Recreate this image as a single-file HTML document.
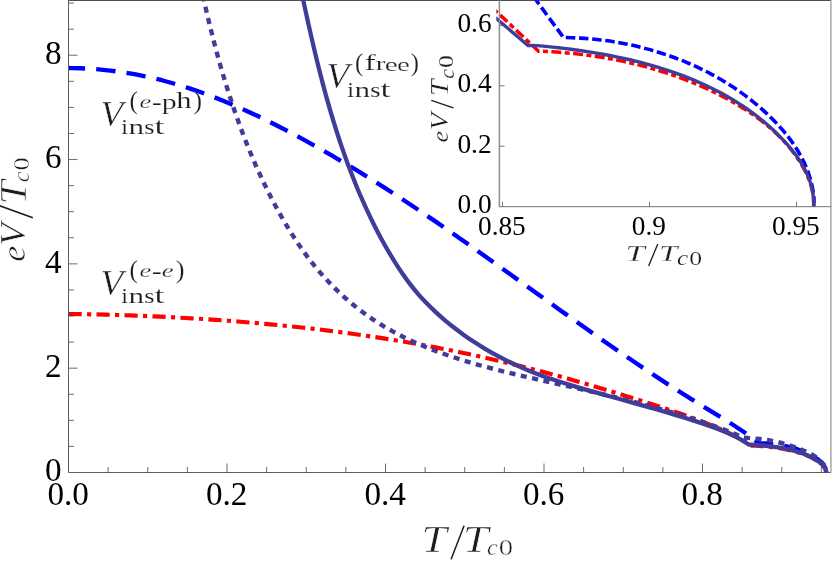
<!DOCTYPE html>
<html><head><meta charset="utf-8"><title>chart</title>
<style>html,body{margin:0;padding:0;background:#fff;}body{width:832px;height:561px;overflow:hidden;font-family:"Liberation Serif",serif;}svg{display:block;will-change:transform;}</style>
</head><body>
<svg width="832" height="561" viewBox="0 0 832 561">
<rect x="0" y="0" width="832" height="561" fill="#fff"/>
<defs><clipPath id="cm"><rect x="68.5" y="0.5" width="762.5" height="472.6"/></clipPath><clipPath id="ci"><rect x="496.3" y="0.5" width="334.7" height="207.4"/></clipPath></defs>
<g clip-path="url(#cm)" fill="none" stroke-linejoin="miter">
<path d="M68.50 314.00 C72.62 314.03 76.74 314.03 80.85 314.09 C84.95 314.15 89.04 314.26 93.13 314.36 C97.22 314.45 101.32 314.56 105.42 314.67 C109.51 314.78 113.61 314.90 117.70 315.03 C121.80 315.15 125.89 315.29 129.99 315.44 C134.09 315.58 138.18 315.74 142.28 315.90 C146.38 316.06 150.47 316.24 154.57 316.42 C158.67 316.60 162.76 316.79 166.86 316.99 C170.95 317.20 175.05 317.41 179.15 317.63 C183.24 317.85 187.34 318.08 191.43 318.32 C195.53 318.56 199.62 318.81 203.71 319.07 C207.81 319.34 211.90 319.61 215.99 319.89 C220.09 320.18 224.18 320.47 228.27 320.77 C232.36 321.08 236.45 321.40 240.54 321.72 C244.63 322.05 248.72 322.39 252.81 322.74 C256.89 323.09 260.98 323.46 265.06 323.83 C269.15 324.21 273.23 324.59 277.32 324.99 C281.40 325.39 285.48 325.80 289.56 326.23 C293.64 326.65 297.72 327.09 301.80 327.53 C305.88 327.98 309.95 328.45 314.03 328.92 C318.10 329.40 322.18 329.88 326.25 330.39 C330.32 330.89 334.39 331.40 338.46 331.93 C342.53 332.46 346.59 333.00 350.66 333.56 C354.72 334.12 358.78 334.69 362.84 335.27 C366.91 335.86 370.96 336.46 375.02 337.07 C379.08 337.69 383.13 338.32 387.18 338.96 C391.23 339.60 395.28 340.26 399.33 340.93 C403.38 341.61 407.42 342.30 411.47 343.00 C415.51 343.70 419.55 344.42 423.59 345.16 C427.62 345.90 431.66 346.65 435.69 347.41 C439.72 348.18 443.75 348.96 447.78 349.76 C451.81 350.56 455.83 351.38 459.85 352.21 C463.87 353.04 467.89 353.89 471.91 354.76 C475.92 355.62 479.93 356.51 483.94 357.41 C487.95 358.31 491.96 359.22 495.96 360.15 C499.96 361.09 503.96 362.03 507.95 363.00 C511.95 363.96 515.94 364.94 519.93 365.94 C523.91 366.93 527.90 367.94 531.88 368.97 C535.86 369.99 539.83 371.03 543.80 372.08 C547.77 373.14 551.74 374.21 555.70 375.29 C559.66 376.37 563.62 377.47 567.57 378.58 C571.52 379.69 575.47 380.81 579.41 381.95 C583.35 383.08 587.29 384.23 591.22 385.39 C595.15 386.55 599.08 387.73 603.00 388.91 C606.92 390.09 610.84 391.29 614.75 392.49 C618.66 393.69 622.56 394.90 626.46 396.12 C630.36 397.34 634.25 398.57 638.14 399.80 C642.02 401.03 645.90 402.27 649.77 403.51 C653.64 404.75 657.51 405.99 661.37 407.25 C665.23 408.50 669.09 409.76 672.93 411.05 C676.78 412.34 680.62 413.64 684.45 414.98 C688.28 416.33 692.11 417.70 695.92 419.13 C699.74 420.56 703.56 422.02 707.35 423.55 C711.16 425.09 714.96 426.67 718.74 428.33 C722.53 430.00 726.32 431.73 730.08 433.54 C733.86 435.36 737.71 437.21 741.37 439.25 C744.96 441.26 748.34 443.53 751.83 445.67 C752.61 445.68 753.38 445.67 754.17 445.69 C754.96 445.71 755.77 445.76 756.57 445.80 C757.37 445.84 758.17 445.88 758.96 445.93 C759.75 445.97 760.54 446.02 761.33 446.08 C762.12 446.13 762.90 446.19 763.69 446.25 C764.47 446.31 765.25 446.38 766.02 446.45 C766.80 446.52 767.57 446.59 768.34 446.67 C769.11 446.75 769.88 446.83 770.65 446.92 C771.41 447.00 772.18 447.10 772.94 447.19 C773.70 447.29 774.46 447.39 775.22 447.49 C775.97 447.60 776.73 447.71 777.48 447.82 C778.23 447.94 778.98 448.06 779.73 448.18 C780.48 448.30 781.23 448.43 781.97 448.57 C782.72 448.70 783.46 448.84 784.20 448.99 C784.94 449.13 785.68 449.28 786.42 449.44 C787.15 449.59 787.89 449.75 788.63 449.92 C789.36 450.09 790.09 450.26 790.82 450.44 C791.56 450.62 792.29 450.80 793.02 450.99 C793.74 451.18 794.47 451.37 795.20 451.57 C795.92 451.77 796.65 451.98 797.37 452.19 C798.10 452.41 798.82 452.63 799.54 452.85 C800.26 453.08 800.98 453.31 801.69 453.55 C802.40 453.79 803.11 454.03 803.81 454.28 C804.51 454.54 805.20 454.79 805.89 455.06 C806.58 455.33 807.26 455.60 807.93 455.88 C808.60 456.16 809.27 456.44 809.92 456.74 C810.57 457.03 811.21 457.34 811.85 457.65 C812.47 457.96 813.09 458.27 813.70 458.60 C814.30 458.92 814.90 459.26 815.48 459.60 C816.05 459.94 816.61 460.29 817.16 460.65 C817.71 461.00 818.24 461.37 818.75 461.75 C819.26 462.12 819.76 462.50 820.24 462.90 C820.71 463.29 821.17 463.69 821.61 464.10 C822.04 464.51 822.46 464.92 822.85 465.36 C823.24 465.78 823.61 466.22 823.94 466.67 C824.27 467.11 824.58 467.57 824.84 468.04 C825.10 468.50 825.34 468.97 825.52 469.46 C825.71 469.95 825.87 470.44 825.95 470.95 C826.03 471.46 825.99 471.98 826.01 472.50" stroke="#ff0000" stroke-width="4.15" stroke-dasharray="13.2 5.3 4.2 5.3"/>
<path d="M68.50 68.00 C72.57 68.09 76.64 68.12 80.72 68.28 C84.84 68.44 89.00 68.66 93.12 68.96 C97.23 69.25 101.33 69.62 105.41 70.05 C109.49 70.48 113.55 70.98 117.60 71.54 C121.65 72.10 125.68 72.73 129.70 73.42 C133.71 74.11 137.71 74.86 141.69 75.68 C145.67 76.49 149.64 77.36 153.59 78.29 C157.54 79.22 161.48 80.21 165.40 81.25 C169.32 82.29 173.22 83.39 177.11 84.54 C181.00 85.69 184.88 86.90 188.74 88.15 C192.60 89.41 196.45 90.71 200.28 92.06 C204.11 93.42 207.93 94.82 211.73 96.26 C215.53 97.71 219.32 99.20 223.10 100.73 C226.88 102.27 230.64 103.84 234.38 105.45 C238.13 107.07 241.87 108.72 245.59 110.41 C249.31 112.09 253.02 113.82 256.72 115.57 C260.42 117.32 264.10 119.11 267.77 120.92 C271.44 122.74 275.10 124.58 278.75 126.45 C282.39 128.32 286.03 130.21 289.65 132.12 C293.27 134.04 296.88 135.97 300.48 137.93 C304.08 139.88 307.67 141.85 311.25 143.84 C314.83 145.83 318.39 147.84 321.95 149.86 C325.50 151.88 329.05 153.92 332.58 155.97 C336.11 158.03 339.64 160.10 343.15 162.18 C346.66 164.27 350.16 166.37 353.66 168.48 C357.15 170.60 360.63 172.72 364.11 174.87 C367.58 177.01 371.04 179.17 374.50 181.33 C377.95 183.50 381.40 185.69 384.83 187.88 C388.27 190.08 391.70 192.28 395.12 194.50 C398.53 196.72 401.94 198.95 405.35 201.20 C408.75 203.44 412.14 205.69 415.53 207.95 C418.91 210.22 422.29 212.49 425.66 214.78 C429.03 217.06 432.39 219.35 435.75 221.66 C439.11 223.96 442.46 226.27 445.80 228.59 C449.15 230.91 452.49 233.23 455.82 235.57 C459.16 237.90 462.49 240.24 465.82 242.59 C469.15 244.93 472.47 247.28 475.79 249.64 C479.11 252.00 482.43 254.36 485.75 256.73 C489.07 259.09 492.38 261.47 495.70 263.84 C499.01 266.21 502.32 268.59 505.64 270.97 C508.95 273.35 512.27 275.73 515.58 278.12 C518.90 280.50 522.21 282.89 525.53 285.27 C528.84 287.66 532.16 290.04 535.48 292.43 C538.80 294.82 542.12 297.20 545.44 299.59 C548.76 301.97 552.08 304.36 555.41 306.74 C558.73 309.12 562.06 311.50 565.39 313.87 C568.73 316.25 572.06 318.62 575.40 320.99 C578.73 323.36 582.07 325.73 585.42 328.09 C588.76 330.45 592.11 332.81 595.46 335.16 C598.81 337.51 602.17 339.85 605.53 342.19 C608.89 344.53 612.25 346.86 615.62 349.18 C618.99 351.51 622.37 353.83 625.75 356.13 C629.13 358.44 632.52 360.74 635.91 363.03 C639.29 365.32 642.69 367.60 646.09 369.87 C649.48 372.13 652.89 374.39 656.29 376.63 C659.70 378.87 663.11 381.10 666.52 383.31 C669.93 385.52 673.35 387.72 676.77 389.91 C680.18 392.09 683.60 394.26 687.03 396.41 C690.45 398.55 693.88 400.68 697.31 402.80 C700.73 404.91 704.17 406.99 707.60 409.08 C711.03 411.18 714.46 413.25 717.89 415.36 C721.33 417.47 724.77 419.59 728.20 421.76 C731.64 423.95 735.08 426.16 738.50 428.44 C741.95 430.75 745.46 433.06 748.81 435.54 C752.15 438.01 755.32 440.71 758.57 443.29 C759.33 443.31 760.11 443.31 760.87 443.33 C761.62 443.35 762.37 443.37 763.12 443.40 C763.87 443.43 764.63 443.47 765.38 443.51 C766.13 443.55 766.88 443.59 767.63 443.65 C768.38 443.70 769.14 443.76 769.89 443.83 C770.64 443.89 771.39 443.96 772.14 444.04 C772.89 444.12 773.63 444.20 774.38 444.29 C775.13 444.38 775.87 444.47 776.62 444.58 C777.36 444.68 778.10 444.79 778.84 444.90 C779.58 445.01 780.32 445.13 781.05 445.26 C781.79 445.39 782.52 445.52 783.25 445.66 C783.98 445.80 784.71 445.94 785.43 446.09 C786.15 446.24 786.87 446.40 787.59 446.56 C788.31 446.73 789.02 446.90 789.73 447.07 C790.44 447.25 791.15 447.43 791.85 447.62 C792.55 447.81 793.24 448.00 793.94 448.21 C794.63 448.41 795.32 448.61 796.00 448.83 C796.68 449.04 797.36 449.26 798.03 449.49 C798.70 449.72 799.37 449.95 800.03 450.19 C800.69 450.43 801.34 450.68 802.00 450.93 C802.64 451.18 803.29 451.44 803.92 451.71 C804.56 451.97 805.19 452.24 805.81 452.52 C806.43 452.80 807.05 453.08 807.66 453.38 C808.27 453.67 808.87 453.97 809.46 454.27 C810.06 454.58 810.64 454.89 811.22 455.21 C811.80 455.52 812.37 455.85 812.93 456.18 C813.49 456.51 814.05 456.85 814.59 457.19 C815.13 457.54 815.67 457.89 816.19 458.25 C816.71 458.60 817.22 458.97 817.71 459.34 C818.21 459.71 818.69 460.08 819.15 460.47 C819.61 460.85 820.06 461.24 820.49 461.65 C820.92 462.04 821.33 462.45 821.72 462.86 C822.11 463.27 822.48 463.69 822.83 464.12 C823.17 464.54 823.49 464.97 823.79 465.41 C824.09 465.85 824.37 466.29 824.62 466.75 C824.86 467.20 825.09 467.66 825.28 468.13 C825.47 468.59 825.63 469.07 825.77 469.55 C825.90 470.03 826.03 470.52 826.07 471.01 C826.11 471.50 826.03 472.00 826.01 472.50" stroke="#0000ff" stroke-width="4.35" stroke-dasharray="19.4 11.13" stroke-dashoffset="2.8"/>
<path d="M201.80 -10.00 C202.64 -6.01 203.43 -2.00 204.31 1.97 C205.17 5.91 206.09 9.81 207.01 13.73 C207.94 17.66 208.88 21.58 209.84 25.51 C210.80 29.44 211.78 33.37 212.79 37.30 C213.79 41.23 214.82 45.17 215.87 49.09 C216.92 53.03 217.99 56.96 219.09 60.88 C220.19 64.81 221.31 68.73 222.46 72.65 C223.61 76.57 224.78 80.48 225.99 84.39 C227.19 88.30 228.42 92.20 229.67 96.09 C230.93 99.99 232.22 103.88 233.53 107.75 C234.85 111.63 236.19 115.50 237.57 119.36 C238.95 123.21 240.35 127.06 241.79 130.89 C243.23 134.72 244.70 138.55 246.21 142.35 C247.72 146.16 249.25 149.95 250.83 153.73 C252.40 157.50 254.01 161.27 255.65 165.01 C257.30 168.75 258.98 172.48 260.69 176.19 C262.41 179.89 264.17 183.58 265.96 187.25 C267.75 190.91 269.58 194.56 271.46 198.18 C273.33 201.81 275.24 205.41 277.19 208.99 C279.15 212.56 281.14 216.12 283.17 219.65 C285.21 223.17 287.29 226.68 289.42 230.14 C291.56 233.61 293.74 237.05 295.98 240.44 C298.22 243.84 300.51 247.20 302.87 250.51 C305.23 253.83 307.65 257.10 310.15 260.32 C312.64 263.54 315.20 266.72 317.84 269.83 C320.47 272.95 323.18 276.02 325.94 279.02 C328.72 282.02 331.55 284.96 334.45 287.84 C337.35 290.71 340.32 293.52 343.34 296.26 C346.37 299.00 349.45 301.67 352.59 304.26 C355.73 306.84 358.93 309.36 362.18 311.79 C365.42 314.22 368.72 316.57 372.08 318.83 C375.42 321.09 378.83 323.26 382.27 325.36 C385.71 327.45 389.21 329.46 392.74 331.40 C396.27 333.34 399.85 335.20 403.46 337.00 C407.07 338.79 410.73 340.51 414.41 342.18 C418.09 343.84 421.82 345.43 425.56 346.97 C429.31 348.51 433.10 349.98 436.90 351.41 C440.71 352.84 444.55 354.20 448.41 355.53 C452.27 356.85 456.16 358.13 460.05 359.36 C463.96 360.60 467.88 361.78 471.82 362.94 C475.76 364.09 479.72 365.20 483.68 366.29 C487.65 367.37 491.64 368.42 495.62 369.45 C499.61 370.47 503.61 371.47 507.62 372.45 C511.62 373.43 515.63 374.38 519.64 375.32 C523.65 376.26 527.67 377.18 531.68 378.10 C535.69 379.02 539.70 379.92 543.71 380.82 C547.71 381.72 551.70 382.61 555.70 383.50 C559.69 384.40 563.67 385.29 567.65 386.19 C571.62 387.08 575.59 387.98 579.56 388.88 C583.52 389.78 587.47 390.68 591.43 391.60 C595.38 392.51 599.32 393.43 603.26 394.37 C607.20 395.30 611.13 396.24 615.06 397.20 C618.99 398.15 622.91 399.12 626.83 400.10 C630.75 401.09 634.66 402.09 638.57 403.11 C642.48 404.13 646.39 405.16 650.29 406.22 C654.19 407.28 658.09 408.36 661.98 409.47 C665.88 410.57 669.77 411.70 673.65 412.86 C677.54 414.02 681.43 415.20 685.31 416.41 C689.19 417.63 693.07 418.87 696.95 420.14 C700.83 421.42 704.70 422.73 708.57 424.07 C712.45 425.42 716.32 426.80 720.19 428.22 C724.06 429.64 727.99 431.02 731.79 432.59 C735.56 434.15 739.20 435.93 742.90 437.60 C747.13 437.93 751.51 438.20 755.60 438.60 C759.43 438.97 763.01 439.32 766.70 439.90 C770.41 440.48 774.12 441.22 777.80 442.10 C781.52 442.99 785.22 444.03 788.90 445.20 C792.62 446.39 796.32 447.74 800.00 449.20 C803.72 450.67 807.65 452.02 811.10 454.00 C814.51 455.96 818.15 458.64 820.60 461.00 C822.49 462.82 824.05 464.51 825.00 466.50 C825.89 468.36 825.87 470.50 826.30 472.50" stroke="#3f3d99" stroke-width="4.4" stroke-dasharray="6.1 5.5" stroke-dashoffset="6.1"/>
<path d="M300.50 -12.00 C301.39 -8.02 302.30 -4.04 303.18 -0.05 C304.06 3.94 304.90 7.93 305.77 11.91 C306.64 15.91 307.52 19.90 308.41 23.89 C309.30 27.88 310.20 31.87 311.11 35.86 C312.03 39.85 312.95 43.84 313.89 47.82 C314.83 51.81 315.79 55.79 316.76 59.77 C317.73 63.76 318.72 67.73 319.73 71.71 C320.73 75.68 321.76 79.65 322.80 83.61 C323.85 87.57 324.91 91.53 326.00 95.48 C327.09 99.43 328.20 103.38 329.34 107.31 C330.47 111.25 331.63 115.18 332.82 119.10 C334.00 123.02 335.21 126.93 336.45 130.83 C337.69 134.73 338.96 138.62 340.26 142.50 C341.56 146.38 342.89 150.25 344.25 154.10 C345.61 157.96 347.00 161.80 348.43 165.63 C349.86 169.46 351.32 173.28 352.81 177.08 C354.31 180.88 355.84 184.67 357.41 188.45 C358.99 192.22 360.59 195.98 362.24 199.72 C363.89 203.46 365.58 207.18 367.31 210.88 C369.04 214.59 370.81 218.28 372.63 221.95 C374.44 225.62 376.30 229.27 378.21 232.89 C380.11 236.52 382.06 240.13 384.06 243.71 C386.06 247.28 388.11 250.83 390.21 254.35 C392.31 257.86 394.45 261.35 396.65 264.80 C398.86 268.23 401.10 271.65 403.44 274.99 C405.77 278.34 408.16 281.64 410.65 284.87 C413.15 288.09 415.73 291.25 418.40 294.33 C421.07 297.41 423.85 300.42 426.69 303.35 C429.54 306.28 432.48 309.14 435.47 311.93 C438.47 314.72 441.55 317.43 444.68 320.08 C447.81 322.73 451.01 325.31 454.25 327.82 C457.49 330.33 460.79 332.77 464.13 335.15 C467.46 337.52 470.85 339.83 474.28 342.07 C477.70 344.31 481.18 346.48 484.69 348.58 C488.19 350.69 491.75 352.72 495.33 354.68 C498.91 356.65 502.54 358.54 506.19 360.37 C509.84 362.19 513.53 363.95 517.25 365.63 C520.96 367.32 524.71 368.93 528.48 370.48 C532.25 372.03 536.05 373.50 539.87 374.92 C543.69 376.34 547.53 377.70 551.39 379.01 C555.25 380.33 559.14 381.59 563.03 382.82 C566.92 384.06 570.84 385.24 574.76 386.41 C578.68 387.58 582.62 388.71 586.56 389.84 C590.50 390.97 594.46 392.07 598.41 393.18 C602.37 394.28 606.34 395.38 610.30 396.47 C614.26 397.57 618.23 398.66 622.20 399.76 C626.17 400.86 630.13 401.96 634.10 403.06 C638.06 404.17 642.02 405.28 645.98 406.40 C649.93 407.52 653.88 408.64 657.82 409.78 C661.76 410.92 665.69 412.06 669.61 413.23 C673.52 414.39 677.43 415.57 681.33 416.77 C685.22 417.96 689.10 419.18 692.96 420.41 C696.82 421.65 700.66 422.89 704.49 424.19 C708.31 425.49 712.12 426.79 715.90 428.22 C719.68 429.66 723.45 431.14 727.17 432.80 C730.91 434.47 734.66 436.23 738.28 438.20 C741.93 440.18 745.43 442.52 749.00 444.68 C749.84 444.68 750.69 444.67 751.51 444.69 C752.31 444.72 753.08 444.79 753.87 444.84 C754.66 444.89 755.45 444.94 756.24 444.99 C757.04 445.05 757.84 445.11 758.64 445.17 C759.44 445.23 760.24 445.30 761.04 445.37 C761.84 445.43 762.65 445.51 763.45 445.58 C764.26 445.66 765.07 445.74 765.87 445.82 C766.68 445.90 767.49 445.99 768.30 446.08 C769.11 446.17 769.91 446.26 770.72 446.36 C771.53 446.46 772.34 446.57 773.14 446.67 C773.95 446.78 774.75 446.89 775.56 447.01 C776.36 447.13 777.17 447.25 777.97 447.37 C778.77 447.50 779.57 447.63 780.36 447.77 C781.16 447.90 781.95 448.05 782.75 448.19 C783.54 448.34 784.33 448.49 785.11 448.65 C785.90 448.81 786.68 448.97 787.46 449.14 C788.24 449.31 789.01 449.48 789.78 449.66 C790.55 449.84 791.32 450.03 792.08 450.22 C792.84 450.42 793.60 450.62 794.35 450.82 C795.10 451.03 795.84 451.24 796.58 451.46 C797.32 451.67 798.06 451.90 798.79 452.13 C799.51 452.36 800.24 452.60 800.95 452.85 C801.67 453.09 802.37 453.34 803.08 453.60 C803.78 453.86 804.47 454.13 805.16 454.40 C805.84 454.68 806.52 454.96 807.19 455.25 C807.86 455.54 808.52 455.83 809.18 456.14 C809.83 456.44 810.48 456.76 811.11 457.08 C811.75 457.40 812.37 457.73 812.99 458.07 C813.61 458.40 814.21 458.75 814.81 459.10 C815.41 459.46 815.99 459.82 816.57 460.19 C817.15 460.56 817.71 460.94 818.27 461.33 C818.82 461.72 819.36 462.11 819.88 462.52 C820.40 462.93 820.91 463.34 821.39 463.77 C821.86 464.19 822.31 464.63 822.74 465.08 C823.15 465.52 823.55 465.97 823.90 466.44 C824.25 466.90 824.57 467.37 824.85 467.87 C825.11 468.35 825.35 468.84 825.53 469.35 C825.71 469.85 825.84 470.38 825.92 470.90 C826.00 471.43 825.98 471.97 826.01 472.50" stroke="#3f3d99" stroke-width="4.3"/>
</g>
<g stroke="#4d4d4d" stroke-width="0.9" fill="none">
<path d="M68.5 0V472.5H831"/>
</g>
<path d="M68.5 0.4H831" stroke="#3a3a3a" stroke-width="1" fill="none"/>
<path d="M830.9 0V472.5" stroke="#999" stroke-width="1.3" fill="none"/>
<path d="M68.5 446.42h5.5 M68.5 420.34h5.5 M68.5 394.26h5.5 M68.5 368.18h9.0 M68.5 342.10h5.5 M68.5 316.02h5.5 M68.5 289.94h5.5 M68.5 263.86h9.0 M68.5 237.78h5.5 M68.5 211.70h5.5 M68.5 185.62h5.5 M68.5 159.54h9.0 M68.5 133.46h5.5 M68.5 107.38h5.5 M68.5 81.30h5.5 M68.5 55.22h9.0 M68.5 29.14h5.5 M68.5 3.06h5.5 M108.12 472.5v-5.5 M147.75 472.5v-5.5 M187.38 472.5v-5.5 M227.00 472.5v-9.0 M266.62 472.5v-5.5 M306.25 472.5v-5.5 M345.88 472.5v-5.5 M385.50 472.5v-9.0 M425.12 472.5v-5.5 M464.75 472.5v-5.5 M504.38 472.5v-5.5 M544.00 472.5v-9.0 M583.62 472.5v-5.5 M623.25 472.5v-5.5 M662.88 472.5v-5.5 M702.50 472.5v-9.0 M742.13 472.5v-5.5 M781.75 472.5v-5.5 M821.38 472.5v-5.5" stroke="#3c3c3c" stroke-width="0.75" fill="none"/>
<g clip-path="url(#ci)" fill="none" stroke-linejoin="miter">
<path d="M490.00 6.00 C492.00 7.75 493.13 8.64 496.00 11.25 C503.77 18.31 524.33 37.92 538.50 51.25 C541.39 51.29 544.26 51.26 547.17 51.38 C550.13 51.50 553.13 51.77 556.10 52.00 C559.06 52.22 562.02 52.47 564.96 52.74 C567.90 53.01 570.83 53.30 573.76 53.61 C576.67 53.92 579.58 54.26 582.49 54.62 C585.38 54.97 588.27 55.35 591.15 55.76 C594.03 56.16 596.90 56.59 599.76 57.04 C602.62 57.50 605.47 57.97 608.32 58.48 C611.16 58.98 613.99 59.51 616.82 60.07 C619.64 60.62 622.45 61.20 625.26 61.81 C628.07 62.42 630.87 63.05 633.66 63.72 C636.45 64.38 639.24 65.07 642.01 65.79 C644.79 66.51 647.56 67.26 650.32 68.04 C653.08 68.82 655.84 69.63 658.59 70.47 C661.34 71.31 664.08 72.18 666.82 73.08 C669.55 73.98 672.28 74.91 675.01 75.87 C677.73 76.84 680.45 77.83 683.16 78.86 C685.88 79.89 688.59 80.95 691.29 82.05 C694.00 83.15 696.70 84.28 699.39 85.44 C702.09 86.60 704.78 87.80 707.46 89.03 C710.15 90.27 712.83 91.54 715.50 92.84 C718.17 94.15 720.83 95.49 723.46 96.87 C726.10 98.26 728.73 99.67 731.33 101.13 C733.93 102.59 736.51 104.09 739.07 105.63 C741.62 107.17 744.14 108.74 746.64 110.37 C749.12 111.99 751.59 113.65 754.01 115.36 C756.42 117.06 758.81 118.81 761.15 120.60 C763.48 122.40 765.78 124.23 768.03 126.12 C770.27 128.00 772.47 129.93 774.62 131.91 C776.75 133.88 778.85 135.91 780.88 137.98 C782.90 140.05 784.87 142.17 786.77 144.34 C788.67 146.51 790.52 148.73 792.28 151.00 C794.05 153.27 795.75 155.59 797.37 157.96 C798.98 160.34 800.54 162.76 801.98 165.24 C803.42 167.72 804.79 170.25 806.02 172.83 C807.26 175.42 808.39 178.06 809.37 180.76 C810.35 183.46 811.21 186.22 811.89 189.02 C812.57 191.84 813.16 194.71 813.46 197.62 C813.77 200.57 813.62 203.61 813.70 206.60" stroke="#ff0000" stroke-width="3.5" stroke-dasharray="10 3.4 5 3.4" stroke-dashoffset="8"/>
<path d="M526.00 -14.00 C529.33 -9.33 531.82 -5.78 536.00 0.00 C542.87 9.50 554.33 25.00 563.50 37.50 C566.34 37.57 569.21 37.61 572.03 37.72 C574.84 37.82 577.61 37.95 580.39 38.12 C583.18 38.29 585.97 38.49 588.76 38.73 C591.55 38.97 594.34 39.24 597.13 39.55 C599.92 39.86 602.71 40.20 605.49 40.58 C608.27 40.96 611.06 41.37 613.84 41.82 C616.62 42.26 619.39 42.75 622.16 43.26 C624.93 43.78 627.70 44.33 630.45 44.92 C633.21 45.51 635.97 46.14 638.71 46.80 C641.45 47.46 644.19 48.15 646.92 48.88 C649.64 49.61 652.36 50.38 655.07 51.18 C657.77 51.98 660.47 52.82 663.16 53.70 C665.84 54.57 668.51 55.48 671.17 56.43 C673.83 57.38 676.48 58.36 679.11 59.38 C681.74 60.40 684.36 61.46 686.96 62.55 C689.56 63.64 692.15 64.77 694.71 65.94 C697.28 67.10 699.83 68.31 702.36 69.55 C704.89 70.79 707.41 72.06 709.90 73.38 C712.39 74.69 714.87 76.04 717.32 77.43 C719.77 78.82 722.20 80.24 724.61 81.70 C727.01 83.17 729.40 84.67 731.76 86.20 C734.12 87.74 736.45 89.32 738.76 90.93 C741.07 92.54 743.36 94.19 745.62 95.88 C747.88 97.57 750.11 99.30 752.31 101.06 C754.52 102.83 756.69 104.63 758.84 106.47 C760.98 108.31 763.10 110.19 765.18 112.10 C767.27 114.02 769.33 115.98 771.34 117.97 C773.35 119.96 775.34 122.00 777.27 124.07 C779.20 126.14 781.09 128.25 782.92 130.40 C784.75 132.54 786.54 134.73 788.26 136.96 C789.97 139.18 791.63 141.45 793.22 143.76 C794.81 146.06 796.34 148.40 797.78 150.79 C799.22 153.17 800.60 155.59 801.88 158.06 C803.16 160.52 804.37 163.02 805.48 165.56 C806.58 168.10 807.61 170.69 808.52 173.30 C809.44 175.93 810.27 178.59 810.98 181.29 C811.69 183.99 812.30 186.74 812.79 189.51 C813.28 192.30 813.77 195.13 813.92 197.97 C814.07 200.83 813.77 203.72 813.70 206.60" stroke="#0000ff" stroke-width="3.6" stroke-dasharray="9.5 3.7"/>
<path d="M493.00 15.50 C494.33 16.67 495.03 17.30 497.00 19.00 C502.45 23.72 517.67 36.67 528.00 45.50 C531.11 45.54 534.26 45.45 537.32 45.61 C540.28 45.76 543.14 46.14 546.07 46.43 C549.00 46.72 551.94 47.02 554.88 47.34 C557.84 47.67 560.79 48.01 563.75 48.36 C566.72 48.72 569.70 49.10 572.67 49.49 C575.66 49.89 578.64 50.30 581.63 50.74 C584.62 51.18 587.61 51.64 590.60 52.12 C593.60 52.60 596.60 53.10 599.59 53.62 C602.59 54.15 605.59 54.70 608.58 55.27 C611.58 55.84 614.58 56.44 617.57 57.06 C620.56 57.69 623.55 58.34 626.53 59.01 C629.52 59.69 632.49 60.39 635.47 61.13 C638.44 61.86 641.40 62.62 644.36 63.41 C647.31 64.20 650.26 65.02 653.20 65.87 C656.13 66.72 659.06 67.60 661.97 68.51 C664.89 69.42 667.79 70.37 670.68 71.35 C673.56 72.33 676.44 73.34 679.30 74.38 C682.15 75.43 684.99 76.51 687.82 77.62 C690.64 78.74 693.45 79.89 696.23 81.08 C699.02 82.27 701.79 83.49 704.53 84.76 C707.28 86.02 710.00 87.32 712.70 88.66 C715.40 90.00 718.08 91.38 720.74 92.81 C723.39 94.23 726.02 95.69 728.62 97.19 C731.22 98.69 733.79 100.24 736.34 101.83 C738.88 103.42 741.40 105.05 743.89 106.72 C746.37 108.40 748.83 110.12 751.26 111.88 C753.68 113.65 756.07 115.46 758.43 117.32 C760.79 119.17 763.11 121.08 765.40 123.03 C767.69 124.98 769.94 126.98 772.15 129.03 C774.37 131.08 776.55 133.18 778.68 135.33 C780.82 137.48 782.92 139.68 784.97 141.93 C787.02 144.18 789.04 146.48 790.97 148.84 C792.89 151.19 794.77 153.60 796.54 156.07 C798.30 158.53 800.00 161.04 801.55 163.62 C803.11 166.20 804.57 168.83 805.88 171.52 C807.18 174.21 808.37 176.96 809.38 179.77 C810.39 182.57 811.26 185.45 811.92 188.37 C812.59 191.30 813.07 194.31 813.37 197.34 C813.67 200.39 813.59 203.51 813.70 206.60" stroke="#3f3d99" stroke-width="3.4"/>
</g>
<path d="M499.4 0.5V206.7" stroke="#8e8e8e" stroke-width="1.5" fill="none"/>
<path d="M499 206.7H831" stroke="#666" stroke-width="0.9" fill="none"/>
<path d="M499.5 146.20h5 M499.5 85.80h5 M499.5 25.40h5 M502.50 206.7v-5 M649.50 206.7v-5 M796.50 206.7v-5" stroke="#555" stroke-width="0.8" fill="none"/>
<g font-family="'Liberation Serif', serif" fill="#000">
<text x="61.50" y="481.22" font-size="33.20" text-anchor="end">0</text>
<text x="61.50" y="376.90" font-size="33.20" text-anchor="end">2</text>
<text x="61.50" y="272.58" font-size="33.20" text-anchor="end">4</text>
<text x="61.50" y="168.26" font-size="33.20" text-anchor="end">6</text>
<text x="61.50" y="63.94" font-size="33.20" text-anchor="end">8</text>
<text x="68.20" y="504.60" font-size="33.20" text-anchor="middle">0.0</text>
<text x="226.70" y="504.60" font-size="33.20" text-anchor="middle">0.2</text>
<text x="385.20" y="504.60" font-size="33.20" text-anchor="middle">0.4</text>
<text x="543.70" y="504.60" font-size="33.20" text-anchor="middle">0.6</text>
<text x="702.20" y="504.60" font-size="33.20" text-anchor="middle">0.8</text>
<text x="491.60" y="213.23" font-size="27.30" text-anchor="end">0.0</text>
<text x="491.60" y="152.83" font-size="27.30" text-anchor="end">0.2</text>
<text x="491.60" y="92.43" font-size="27.30" text-anchor="end">0.4</text>
<text x="491.60" y="32.03" font-size="27.30" text-anchor="end">0.6</text>
<text x="501.90" y="235.10" font-size="27.30" text-anchor="middle">0.85</text>
<text x="648.90" y="235.10" font-size="27.30" text-anchor="middle">0.9</text>
<text x="795.90" y="235.10" font-size="27.30" text-anchor="middle">0.95</text>
<g fill="#1c1c1c">
<text transform="matrix(0.3756 0 0 0.3567 100.27 125.61)" font-size="100" font-style="italic" stroke="#fff" stroke-width="1.37">V</text><text transform="matrix(0.2510 0 0 0.2544 129.55 108.61)" font-size="100" stroke="#fff" stroke-width="0.59">(</text><text transform="matrix(0.2641 0 0 0.1938 139.56 107.96)" font-size="100" font-style="italic" stroke="#fff" stroke-width="1.33">e</text><text transform="matrix(0.2885 0 0 0.2133 151.99 109.07)" font-size="100">-</text><text transform="matrix(0.2989 0 0 0.1993 161.85 108.57)" font-size="100" stroke="#fff" stroke-width="0.82">p</text><text transform="matrix(0.3063 0 0 0.2223 176.34 107.85)" font-size="100" stroke="#fff" stroke-width="0.77">h</text><text transform="matrix(0.2558 0 0 0.2544 193.41 108.61)" font-size="100" stroke="#fff" stroke-width="0.59">)</text><text transform="matrix(0.2437 0 0 0.2189 121.16 134.10)" font-size="100" stroke="#fff" stroke-width="0.87">i</text><text transform="matrix(0.3129 0 0 0.2032 128.52 134.10)" font-size="100" stroke="#fff" stroke-width="0.79">n</text><text transform="matrix(0.2627 0 0 0.2036 144.36 134.08)" font-size="100" stroke="#fff" stroke-width="0.76">s</text><text transform="matrix(0.3577 0 0 0.2400 154.44 134.06)" font-size="100" stroke="#fff" stroke-width="0.68">t</text>
<text transform="matrix(0.3756 0 0 0.3567 100.27 294.51)" font-size="100" font-style="italic" stroke="#fff" stroke-width="1.37">V</text><text transform="matrix(0.2510 0 0 0.2544 129.55 277.51)" font-size="100" stroke="#fff" stroke-width="0.59">(</text><text transform="matrix(0.2641 0 0 0.1937 139.56 276.86)" font-size="100" font-style="italic" stroke="#fff" stroke-width="1.33">e</text><text transform="matrix(0.2885 0 0 0.2133 151.99 277.97)" font-size="100">-</text><text transform="matrix(0.2667 0 0 0.1937 161.75 276.86)" font-size="100" font-style="italic" stroke="#fff" stroke-width="1.32">e</text><text transform="matrix(0.2635 0 0 0.2544 175.83 277.51)" font-size="100" stroke="#fff" stroke-width="0.58">)</text><text transform="matrix(0.2437 0 0 0.2189 121.16 303.00)" font-size="100" stroke="#fff" stroke-width="0.87">i</text><text transform="matrix(0.3129 0 0 0.2032 128.52 303.00)" font-size="100" stroke="#fff" stroke-width="0.79">n</text><text transform="matrix(0.2627 0 0 0.2036 144.36 302.98)" font-size="100" stroke="#fff" stroke-width="0.76">s</text><text transform="matrix(0.3577 0 0 0.2400 154.44 302.96)" font-size="100" stroke="#fff" stroke-width="0.68">t</text>
<text transform="matrix(0.3756 0 0 0.3567 326.27 88.11)" font-size="100" font-style="italic" stroke="#fff" stroke-width="1.37">V</text><text transform="matrix(0.2490 0 0 0.2544 354.90 71.11)" font-size="100" stroke="#fff" stroke-width="0.60">(</text><text transform="matrix(0.3377 0 0 0.2262 364.39 70.35)" font-size="100" stroke="#fff" stroke-width="0.72">f</text><text transform="matrix(0.2885 0 0 0.1904 375.72 70.35)" font-size="100" stroke="#fff" stroke-width="0.85">r</text><text transform="matrix(0.2946 0 0 0.1979 384.77 70.55)" font-size="100" stroke="#fff" stroke-width="1.24">e</text><text transform="matrix(0.2905 0 0 0.1979 396.99 70.55)" font-size="100" stroke="#fff" stroke-width="1.25">e</text><text transform="matrix(0.2442 0 0 0.2544 410.79 71.11)" font-size="100" stroke="#fff" stroke-width="0.60">)</text><text transform="matrix(0.2438 0 0 0.2189 347.16 96.60)" font-size="100" stroke="#fff" stroke-width="0.87">i</text><text transform="matrix(0.3129 0 0 0.2032 354.52 96.60)" font-size="100" stroke="#fff" stroke-width="0.79">n</text><text transform="matrix(0.2627 0 0 0.2036 370.36 96.58)" font-size="100" stroke="#fff" stroke-width="0.76">s</text><text transform="matrix(0.3577 0 0 0.2400 380.44 96.56)" font-size="100" stroke="#fff" stroke-width="0.68">t</text>
<text transform="matrix(0.4600 0 0 0.3733 421.16 551.60)" font-size="100" font-style="italic" stroke="#fff" stroke-width="1.69">T</text>
<path d="M464.05 525.80L451.10 559.20" stroke="#1c1c1c" stroke-width="1.50" fill="none"/>
<text transform="matrix(0.4627 0 0 0.3733 462.64 551.60)" font-size="100" font-style="italic" stroke="#fff" stroke-width="1.68">T</text>
<text transform="matrix(0.2420 0 0 0.2344 486.95 555.19)" font-size="100" font-style="italic" stroke="#fff" stroke-width="1.89">c</text>
<text transform="matrix(0.2869 0 0 0.2230 498.63 555.20)" font-size="100" stroke="#fff" stroke-width="1.78">0</text>
<text transform="matrix(0.3457 0 0 0.2369 625.50 260.76)" font-size="100" font-style="italic" stroke="#fff" stroke-width="1.10">T</text>
<path d="M657.80 243.95L648.60 266.05" stroke="#1c1c1c" stroke-width="1.30" fill="none"/>
<text transform="matrix(0.3303 0 0 0.2369 658.95 260.76)" font-size="100" font-style="italic" stroke="#fff" stroke-width="1.13">T</text>
<text transform="matrix(0.2519 0 0 0.2021 677.04 265.40)" font-size="100" font-style="italic" stroke="#fff" stroke-width="0.90">c</text>
<text transform="matrix(0.2572 0 0 0.1897 689.27 265.41)" font-size="100" stroke="#fff" stroke-width="0.92">0</text>
</g>
</g>
<g font-family="'Liberation Serif', serif" fill="#1c1c1c" transform="translate(25.20 260.50) rotate(-90)"><text transform="matrix(0.3667 0 0 0.3354 -1.40 0.26)" font-size="100" font-style="italic" stroke="#fff" stroke-width="1.71">e</text><text transform="matrix(0.3679 0 0 0.3582 14.81 0.01)" font-size="100" font-style="italic" stroke="#fff" stroke-width="1.38">V</text><path d="M54.80 -25.80L42.70 7.60" stroke="#1c1c1c" stroke-width="1.50" fill="none"/><text transform="matrix(0.4345 0 0 0.3756 55.63 0.35)" font-size="100" font-style="italic" stroke="#fff" stroke-width="1.73">T</text><text transform="matrix(0.2432 0 0 0.2365 78.35 3.49)" font-size="100" font-style="italic" stroke="#fff" stroke-width="1.88">c</text><text transform="matrix(0.2631 0 0 0.2244 89.92 3.50)" font-size="100" stroke="#fff" stroke-width="1.85">0</text></g>
<g font-family="'Liberation Serif', serif" fill="#1c1c1c" transform="translate(448.30 141.70) rotate(-90)"><text transform="matrix(0.2608 0 0 0.2410 -0.92 0.19)" font-size="100" font-style="italic" stroke="#fff" stroke-width="1.08">e</text><text transform="matrix(0.2782 0 0 0.2481 11.60 0.04)" font-size="100" font-style="italic" stroke="#fff" stroke-width="0.86">V</text><path d="M41.40 -17.00L33.80 5.10" stroke="#1c1c1c" stroke-width="1.30" fill="none"/><text transform="matrix(0.3003 0 0 0.2552 45.39 0.16)" font-size="100" font-style="italic" stroke="#fff" stroke-width="1.14">T</text><text transform="matrix(0.2198 0 0 0.2001 62.94 5.20)" font-size="100" font-style="italic" stroke="#fff" stroke-width="0.97">c</text><text transform="matrix(0.2572 0 0 0.2074 73.77 5.19)" font-size="100" stroke="#fff" stroke-width="0.88">0</text></g>
</svg>
</body></html>
